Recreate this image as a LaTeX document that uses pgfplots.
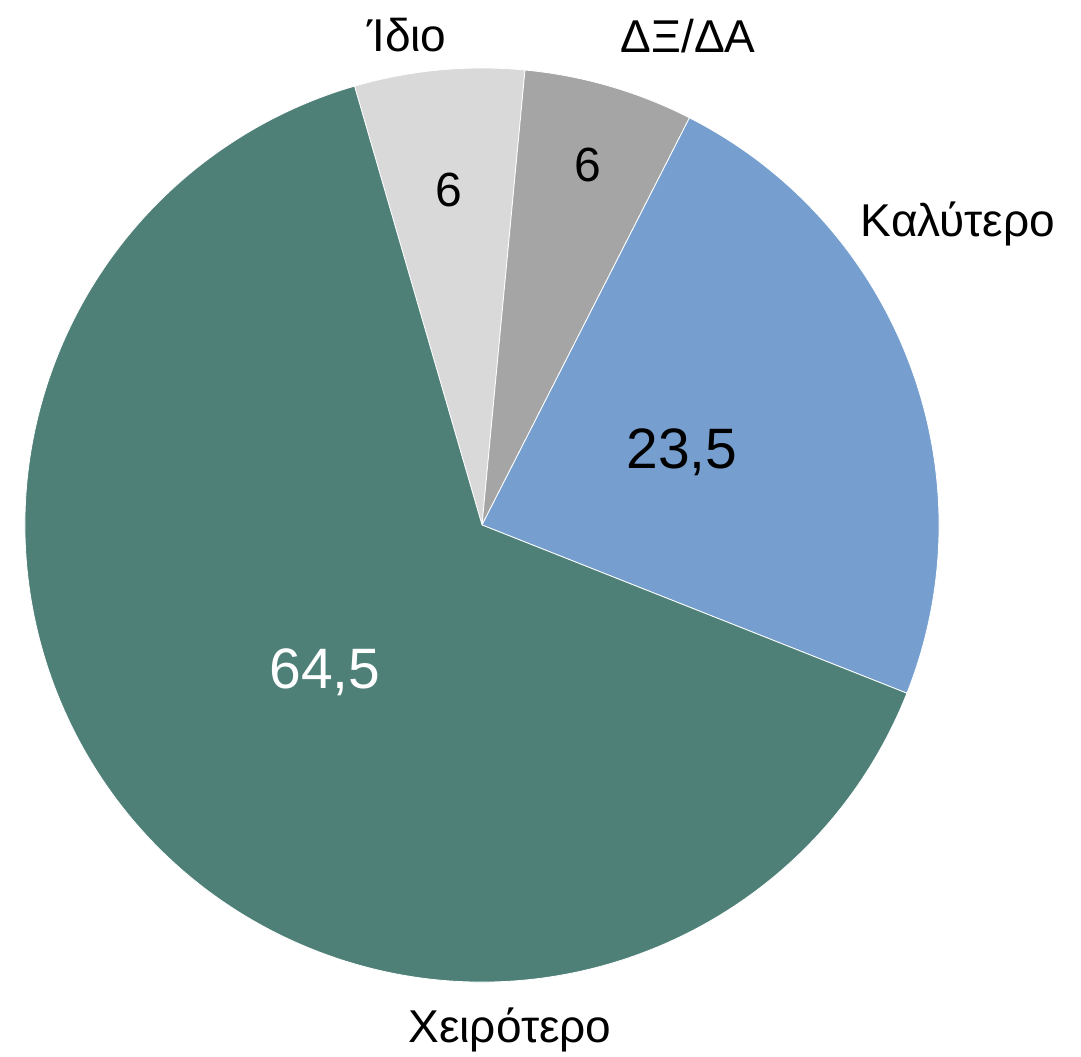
\documentclass[border=0pt]{standalone}
\usepackage{fontspec}
\setmainfont{Liberation Sans}
\usepackage{pgfplots}
\pgfplotsset{compat=1.18}

\definecolor{cIdio}{HTML}{D9D9D9}
\definecolor{cDX}{HTML}{A5A5A5}
\definecolor{cBetter}{HTML}{769FD0}
\definecolor{cWorse}{HTML}{4E8078}

\begin{document}
\begin{tikzpicture}
\begin{axis}[
    scale only axis,
    width=540.5pt, height=528.5pt,
    xmin=0, xmax=1081, ymin=0, ymax=1057,
    hide axis, clip=false,
]
  \path (rel axis cs:0,0) rectangle (rel axis cs:1,1);
  % slices clockwise from 106.2 deg: value / colour
  \xdef\curang{106.2}
  \foreach \v/\c in {6/cIdio, 6/cDX, 23.5/cBetter, 64.5/cWorse} {
    \pgfmathsetmacro\endang{\curang-3.6*\v}
    \edef\temp{\noexpand\fill[overlay, \c, draw=white, line width=0.4pt, line join=round]
      (axis cs:482,532) -- ++(\curang:228.5pt)
      arc[start angle=\curang, end angle=\endang, radius=228.5pt] -- cycle;}
    \temp
    \xdef\curang{\endang}
  }
  % value labels
  \node[overlay, font=\fontsize{24}{28}\selectfont] at (axis cs:449,867) {6};
  \node[overlay, font=\fontsize{24}{28}\selectfont] at (axis cs:588,892) {6};
  \node[overlay, font=\fontsize{28.5}{32}\selectfont] at (axis cs:682,605) {23,5};
  \node[overlay, font=\fontsize{28.5}{32}\selectfont, text=white] at (axis cs:325,385) {64,5};
  % category labels
  \node[overlay, font=\fontsize{23}{26}\selectfont] at (axis cs:407,1022) {Ίδιο};
  \node[overlay, font=\fontsize{23}{26}\selectfont] at (axis cs:688,1021) {ΔΞ/ΔΑ};
  \node[overlay, font=\fontsize{23}{26}\selectfont] at (axis cs:958,833) {Καλύτερο};
  \node[overlay, font=\fontsize{23}{26}\selectfont] at (axis cs:510,27) {Χειρότερο};
\end{axis}
\end{tikzpicture}
\end{document}
